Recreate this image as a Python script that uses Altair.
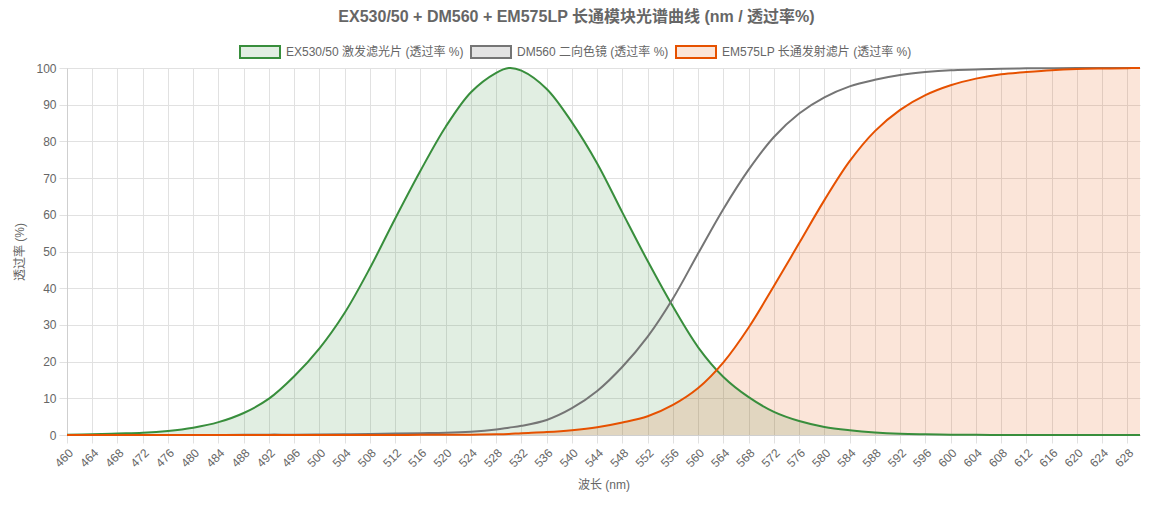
import altair as alt
import pandas as pd

# ---- data ----
WAVELENGTH = [460, 464, 468, 472, 476, 480, 484, 488, 492, 496, 500, 504, 508, 512,
              516, 520, 524, 528, 530, 532, 536, 540, 544, 548, 552, 556, 560, 564,
              568, 572, 576, 580, 584, 588, 592, 596, 600, 604, 608, 612, 616, 620,
              624, 628, 630]

EX530 = [0.1, 0.2, 0.4, 0.6, 1.1, 2.0, 3.5, 6.0, 9.9, 16.0, 23.6, 33.3, 45.5, 59.0,
         72.0, 84.0, 93.4, 98.7, 100.0, 99.3, 94.3, 85.2, 74.0, 60.6, 47.4, 35.0, 23.9, 15.8,
         10.3, 6.3, 3.8, 2.2, 1.3, 0.7, 0.35, 0.2, 0.1, 0.05, 0.0, 0.0, 0.0, 0.0,
         0.0, 0.0, 0.0]

DM560 = [0.0, 0.0, 0.0, 0.0, 0.0, 0.0, 0.0, 0.05, 0.1, 0.1, 0.15, 0.2, 0.3, 0.4,
         0.5, 0.6, 0.9, 1.5, 2.0, 2.5, 4.1, 7.3, 12.0, 18.6, 26.8, 37.2, 49.5, 61.6,
         72.3, 81.2, 87.6, 92.0, 95.0, 96.8, 98.1, 98.9, 99.4, 99.6, 99.8, 99.9, 99.95, 100.0,
         100.0, 100.0, 100.0]

EM575LP = [0.0, 0.0, 0.0, 0.0, 0.0, 0.0, 0.0, 0.0, 0.0, 0.0, 0.0, 0.0, 0.0, 0.0,
           0.05, 0.05, 0.1, 0.2, 0.3, 0.5, 0.8, 1.3, 2.1, 3.4, 5.1, 8.2, 12.8, 19.8,
           29.3, 40.6, 52.3, 64.0, 74.6, 82.8, 88.6, 92.6, 95.3, 97.1, 98.3, 98.9, 99.4, 99.7,
           99.85, 99.95, 100.0]

SERIES = ["EX530/50 激发滤光片 (透过率 %)", "DM560 二向色镜 (透过率 %)", "EM575LP 长通发射滤片 (透过率 %)"]
LINE_COLORS = ["#388E3C", "#757575", "#E65100"]
FILL_COLORS = ["rgba(56,142,60,0.15)", "rgba(117,117,117,0.2)", "rgba(230,81,0,0.15)"]
FILLED = [True, False, True]

X_TICKS = list(range(460, 629, 4))
Y_TICKS = list(range(0, 101, 10))

TITLE = "EX530/50 + DM560 + EM575LP 长通模块光谱曲线 (nm / 透过率%)"
FONT = "Liberation Sans, Noto Sans CJK SC, sans-serif"

rows = []
for name, vals in zip(SERIES, [EX530, DM560, EM575LP]):
    for w, v in zip(WAVELENGTH, vals):
        rows.append({"nm": w, "value": v, "series": name})
df = pd.DataFrame(rows)
filled_names = [s for s, f in zip(SERIES, FILLED) if f]

x_enc = alt.X(
    "nm:Q",
    scale=alt.Scale(domain=[460, 630], nice=False, zero=False),
    axis=alt.Axis(values=X_TICKS, labelAngle=315, labelAlign="right", labelBaseline="top",
                  title="波长 (nm)", labelPadding=4, titlePadding=11, format="d"),
)
y_enc = alt.Y(
    "value:Q",
    scale=alt.Scale(domain=[0, 100], nice=False),
    stack=None,
    axis=alt.Axis(values=Y_TICKS, title="透过率 (%)", labelPadding=3, titlePadding=9),
)

legend_kw = dict(
    orient="none", legendX=172, legendY=-27, direction="horizontal",
    symbolType="M-1,-0.6L3,-0.6L3,0.6L-1,0.6Z", symbolSize=400, symbolStrokeWidth=2,
    labelOffset=25, columnPadding=3, labelFontSize=12, labelColor="#666666", labelFont=FONT,
    labelLimit=500, symbolOpacity=1,
)

area = alt.Chart(df).transform_filter(
    alt.FieldOneOfPredicate(field="series", oneOf=filled_names)
).mark_area(interpolate="catmull-rom", opacity=1).encode(
    x=x_enc,
    y=y_enc,
    fill=alt.Fill("series:N", scale=alt.Scale(domain=SERIES, range=FILL_COLORS),
                  sort=SERIES, title=None, legend=alt.Legend(**legend_kw)),
)

line = alt.Chart(df).mark_line(interpolate="catmull-rom", strokeWidth=2).encode(
    x=x_enc,
    y=y_enc,
    stroke=alt.Stroke("series:N", scale=alt.Scale(domain=SERIES, range=LINE_COLORS),
                      sort=SERIES, title=None, legend=alt.Legend(**legend_kw)),
)

chart = alt.layer(area, line).properties(
    width=1073,
    height=367,
    autosize=alt.AutoSizeParams(type="none"),
    padding={"left": 67, "top": 68, "right": 23, "bottom": 74},
    background="white",
    title=alt.TitleParams(TITLE, anchor="middle", frame="group", dx=-27, offset=16,
                          fontSize=16, fontWeight="bold", color="#666666", font=FONT),
).configure_view(stroke=None).configure_axis(
    labelFont=FONT, titleFont=FONT, labelFontSize=12, titleFontSize=12,
    labelColor="#666666", titleColor="#666666", titleFontWeight="normal",
    gridColor="#e1e1e1", gridWidth=1, tickColor="#e1e1e1", tickSize=8,
    domainColor="#cfcfcf",
)

chart.save("out.html", embed_options={"renderer": "svg", "actions": False})
